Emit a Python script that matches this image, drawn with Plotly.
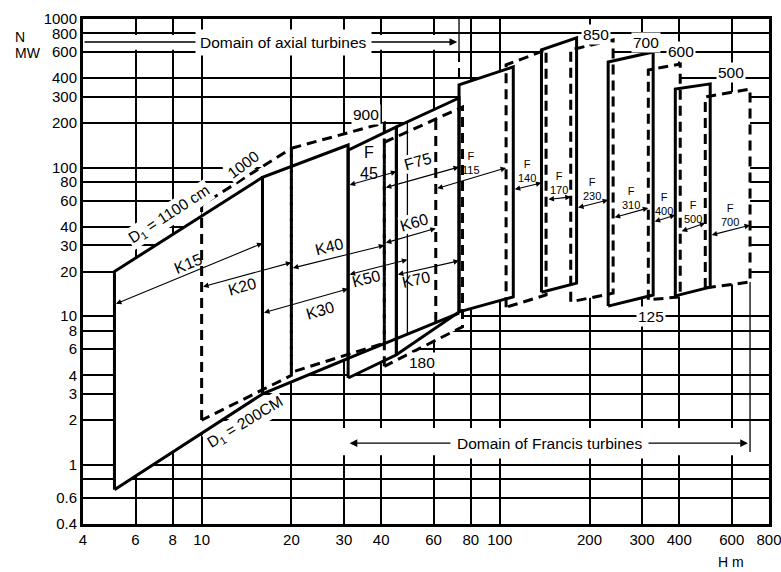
import math
import plotly.graph_objects as go

lg = math.log10

# ---------------- data (H in m, N in MW) ----------------
x_ticks = [4, 6, 8, 10, 20, 30, 40, 60, 80, 100, 200, 300, 400, 600, 800]
y_ticks = [0.4, 0.6, 0.8, 1, 2, 3, 4, 6, 8, 10, 20, 30, 40, 60, 80, 100, 200, 300, 400, 600, 800, 1000]
y_tick_text = ["0.4", "0.6", "", "1", "2", "3", "4", "6", "8", "10", "20", "30", "40", "60", "80",
               "100", "200", "300", "400", "600", "800", "1000"]

# application fields of the turbine runners (quadrilaterals)
box_names     = ["K15", "K20", "K30", "K40", "F45", "F75", "K70", "R1", "R2", "R3", "R4", "R5", "R6", "R7", "R8"]
box_h_left    = [5.1, 10, 16, 20, 31, 41, 45, 73, 105, 138, 173, 231, 315, 388, 489]
box_h_right   = [16, 20, 31, 41, 45, 75, 73, 111, 143, 181, 240, 327, 403, 508, 691]
box_top_left  = [20, 56, 86, 135, 131, 148, 188, 360, 491, 620, 620, 514, 454, 338, 299]
box_top_right = [86, 135, 142, 200, 188, 256, 294, 476, 620, 746, 723, 600, 498, 366, 338]
box_bot_left  = [0.68, 2.0, 3.0, 4.2, 3.84, 4.6, 5.5, 10.7, 11.5, 14.5, 12.5, 11.7, 12.9, 13.7, 15.5]
box_bot_right = [3.0, 4.0, 5.2, 6.6, 5.5, 8.5, 10.7, 13.5, 13.9, 16.7, 14.3, 13.9, 13.5, 15.7, 17.0]
box_dashed    = [False, True, False, True, False, True, False, False, True, False, True, False, True, False, True]

# additional edges
min_line_h = [31, 73]
min_line_n = [5.2, 10.5]
k50_edge_h = [49, 49]
k50_edge_n = [200, 7.6]
k60_edge_h = [61, 61]
k60_edge_n = [209, 9.0]

# head ranges of the turbine types (double arrows)
range_labels = ["K15", "K20", "K30", "K40", "K50", "K60", "K70", "F<br>45", "F75",
                "F<br>115", "F<br>140", "F<br>170", "F<br>230", "F<br>310", "F<br>400", "F<br>500", "F<br>700"]
range_h_from = [5.1, 10, 16, 20, 31, 41, 45, 31, 41, 61, 111, 144, 181, 240, 327, 403, 508]
range_h_to   = [16, 20, 31, 41, 49, 61, 73, 45, 73, 105, 138, 173, 231, 315, 388, 489, 691]
range_n_from = [12, 15.7, 10.5, 21, 19, 31, 19, 76, 73, 72, 71, 61, 53.5, 46, 43, 37, 35]
range_n_to   = [31, 23, 15.3, 30, 24, 39, 23.6, 94, 101, 99.5, 79, 63.5, 60.6, 53.5, 48, 42.4, 41]

# domains
domain_labels = ["Domain of axial turbines", "Domain of Francis turbines"]
domain_h_from = [4, 31]
domain_h_to   = [72, 680]
domain_n      = [700, 1.4]
domain_text_h = [18.8, 147]
domain_band_n = [(620, 780), (1.16, 1.77)]
domain_band_h = [(4, 73), (28, 720)]
axial_end_h = [73, 73]
axial_end_n = [1000, 600]
axial_end2_n = [600, 360]
francis_end_h = [691, 691]
francis_end_n = [17, 1.22]

# runner diameter labels (cm)
d1_labels  = ["1000", "900", "850", "700", "600", "500", "180", "125"]
d1_label_h = [13.8, 35.7, 211, 309, 405, 596, 54.9, 321]
d1_label_n = [105, 226, 791, 692, 600, 439, 4.9, 9.9]
d1_line_labels = ["D<sub>1</sub> = 1100 cm", "D<sub>1</sub> = 200CM"]
d1_line_h = [7.8, 14.0]
d1_line_n = [48, 1.92]

# ---------------- figure ----------------
FONT = "Liberation Sans, Arial, Helvetica, sans-serif"
W, H = 781, 572
ML, MR, MT, MB = 83, 12, 19, 48
PW, PH = W - ML - MR, H - MT - MB
ppd_x = PW / (lg(800) - lg(4))
ppd_y = PH / (lg(1000) - lg(0.4))

def angle(h0, n0, h1, n1):
    dx = (lg(h1) - lg(h0)) * ppd_x
    dy = (lg(n1) - lg(n0)) * ppd_y
    return -math.degrees(math.atan2(dy, dx))

fig = go.Figure()

def poly_fill(xs, ys):
    fig.add_trace(go.Scatter(x=xs, y=ys, mode="lines", fill="toself", fillcolor="white",
                             line=dict(width=0, color="white"), hoverinfo="skip", showlegend=False))

def line(xs, ys, width=3, dash="solid"):
    fig.add_trace(go.Scatter(x=xs, y=ys, mode="lines",
                             line=dict(width=width, color="black", dash=dash),
                             hoverinfo="skip", showlegend=False))

DASH = "10px,6px"

# white bands under the domain arrows (gaps in the grid)
for (n0, n1), (h0, h1) in zip(domain_band_n, domain_band_h):
    poly_fill([h0, h0, h1, h1, h0], [n0, n1, n1, n0, n0])

# white fields
for i in range(len(box_names)):
    poly_fill([box_h_left[i], box_h_left[i], box_h_right[i], box_h_right[i], box_h_left[i]],
              [box_bot_left[i], box_top_left[i], box_top_right[i], box_bot_right[i], box_bot_left[i]])

# outlines
for i in range(len(box_names)):
    line([box_h_left[i], box_h_left[i], box_h_right[i], box_h_right[i], box_h_left[i]],
         [box_bot_left[i], box_top_left[i], box_top_right[i], box_bot_right[i], box_bot_left[i]],
         width=3, dash=DASH if box_dashed[i] else "solid")

line(min_line_h, min_line_n, width=3)
line(k50_edge_h, k50_edge_n, width=1.3)
line(k60_edge_h, k60_edge_n, width=3, dash=DASH)
line(axial_end_h, axial_end_n, width=1.3)
line(axial_end_h, axial_end2_n, width=2, dash=DASH)
line(francis_end_h, francis_end_n, width=1.3)

annotations = []

# head-range arrows
for i in range(len(range_labels)):
    annotations.append(dict(x=lg(range_h_to[i]), y=lg(range_n_to[i]), ax=lg(range_h_from[i]), ay=lg(range_n_from[i]),
                            xref="x", yref="y", axref="x", ayref="y", text="", showarrow=True,
                            arrowhead=2, arrowside="end+start", arrowsize=1, arrowwidth=1.1,
                            arrowcolor="black", standoff=0, startstandoff=0))

# domain arrows
for i in range(len(domain_labels)):
    annotations.append(dict(x=lg(domain_h_to[i]), y=lg(domain_n[i]), ax=lg(domain_h_from[i]), ay=lg(domain_n[i]),
                            xref="x", yref="y", axref="x", ayref="y", text="", showarrow=True,
                            arrowhead=2, arrowside="end" if i == 0 else "end+start", arrowsize=1.1,
                            arrowwidth=1.4, arrowcolor="black", standoff=0, startstandoff=0))

# range labels
label_style = {
    "K15": (0, 10), "K20": (-4, -12), "K30": (15, -10), "K40": (-8, 10), "K50": (-11, -11),
    "K60": (4, 13), "K70": (-11, -12),
}
for i, lab in enumerate(range_labels):
    mx = (lg(range_h_from[i]) + lg(range_h_to[i])) / 2
    my = (lg(range_n_from[i]) + lg(range_n_to[i])) / 2
    ang = angle(range_h_from[i], range_n_from[i], range_h_to[i], range_n_to[i])
    if lab.startswith("K"):
        xs, ys = label_style[lab]
        annotations.append(dict(x=mx, y=my, xref="x", yref="y", text=lab, showarrow=False,
                                textangle=ang, xshift=xs, yshift=ys,
                                font=dict(size=16, color="black", family=FONT),
                                bgcolor="white" if lab == "K60" else None, borderpad=0))
    elif lab == "F<br>45":
        annotations.append(dict(x=mx, y=my, xref="x", yref="y", text=lab, showarrow=False,
                                xshift=-3, yshift=15, font=dict(size=16, color="black", family=FONT)))
    elif lab == "F75":
        annotations.append(dict(x=mx, y=my, xref="x", yref="y", text=lab, showarrow=False,
                                textangle=ang, xshift=-4, yshift=16, bgcolor="white", borderpad=0,
                                font=dict(size=16, color="black", family=FONT)))
    else:
        annotations.append(dict(x=mx, y=my, xref="x", yref="y", text=lab, showarrow=False,
                                yshift=15, font=dict(size=11, color="black", family=FONT)))

# domain labels
for i, lab in enumerate(domain_labels):
    annotations.append(dict(x=lg(domain_text_h[i]), y=lg(domain_n[i]), xref="x", yref="y", text=lab,
                            showarrow=False, bgcolor="white", borderpad=4 if i == 0 else 6,
                            font=dict(size=15.5, color="black", family=FONT)))

# diameter labels
d1_angles = {"1000": -37}
for i, lab in enumerate(d1_labels):
    annotations.append(dict(x=lg(d1_label_h[i]), y=lg(d1_label_n[i]), xref="x", yref="y", text=lab,
                            showarrow=False, bgcolor="white", borderpad=1,
                            textangle=d1_angles.get(lab, 0),
                            font=dict(size=15.5, color="black", family=FONT)))
for i, lab in enumerate(d1_line_labels):
    annotations.append(dict(x=lg(d1_line_h[i]), y=lg(d1_line_n[i]), xref="x", yref="y", text=lab,
                            showarrow=False, bgcolor="white", borderpad=1,
                            textangle=-33 if i == 0 else -31,
                            font=dict(size=15.5, color="black", family=FONT)))

# axis titles
annotations.append(dict(x=(13 - ML) / PW, y=(524 - 37) / PH, xref="paper", yref="paper", text="N",
                        showarrow=False, xanchor="left", yanchor="middle",
                        font=dict(size=14, color="black", family=FONT)))
annotations.append(dict(x=(13 - ML) / PW, y=(524 - 53) / PH, xref="paper", yref="paper", text="MW",
                        showarrow=False, xanchor="left", yanchor="middle",
                        font=dict(size=14, color="black", family=FONT)))
annotations.append(dict(x=(731 - ML) / PW, y=(524 - 562) / PH, xref="paper", yref="paper", text="H m",
                        showarrow=False, xanchor="center", yanchor="middle",
                        font=dict(size=14, color="black", family=FONT)))

fig.update_xaxes(type="log", range=[lg(4), lg(800)], tickvals=x_ticks, ticktext=[str(v) for v in x_ticks],
                 showgrid=True, gridcolor="black", gridwidth=1.5, showline=True, linecolor="black",
                 linewidth=3, mirror=True, ticks="", zeroline=False, automargin=False,
                 ticklabeloverflow="allow",
                 tickfont=dict(size=15, color="black", family=FONT))
fig.update_yaxes(type="log", range=[lg(0.4), lg(1000)], tickvals=y_ticks, ticktext=y_tick_text,
                 showgrid=True, gridcolor="black", gridwidth=1.5, showline=True, linecolor="black",
                 linewidth=3, mirror=True, ticks="", zeroline=False, automargin=False,
                 ticklabeloverflow="allow",
                 tickfont=dict(size=15, color="black", family=FONT))

fig.update_layout(width=W, height=H, margin=dict(l=ML, r=MR, t=MT, b=MB, pad=0, autoexpand=False),
                  plot_bgcolor="white", paper_bgcolor="white", showlegend=False,
                  font=dict(family=FONT, color="black"), annotations=annotations)

fig.write_html("out.html", config={"displayModeBar": False},
               post_script="document.body.style.margin='0px';document.body.style.overflow='hidden';")
